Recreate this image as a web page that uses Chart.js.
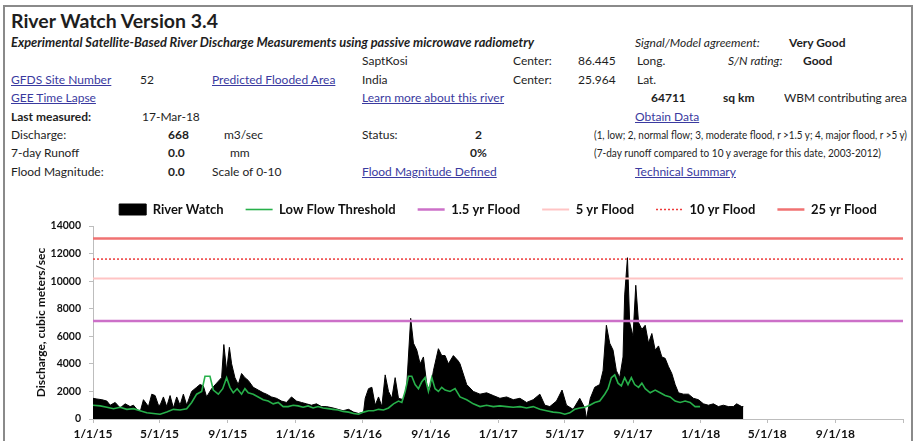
<!DOCTYPE html>
<html><head><meta charset="utf-8">
<script src="https://cdn.jsdelivr.net/npm/chart.js@4.4.1/dist/chart.umd.min.js"></script>
<style>
html,body{margin:0;padding:0;background:#fff;}
body{width:921px;height:441px;position:relative;overflow:hidden;font-family:Lato,"DejaVu Sans",sans-serif;color:#1e1e1e;}
#frame{position:absolute;left:3px;top:5px;width:910px;height:470px;border:2px solid #8a8a8a;box-sizing:border-box;}
.t{position:absolute;white-space:nowrap;font-size:12px;line-height:16px;transform-origin:0 50%;}
.b{font-weight:bold}
.i{font-style:italic}
.a{color:#3a3aa0;text-decoration:underline;}
.n{font-size:11.5px;}
#title{font-size:18.5px;font-weight:bold;line-height:22px;}
#sub{font-size:12.5px;}
#chartWrap{position:absolute;left:0;top:180px;width:921px;height:261px;}
</style></head>
<body>
<div id="frame"></div>
<div class="t" id="title" style="left:11px;top:10px" data-w="207">River Watch Version 3.4</div>
<div class="t b i" id="sub" style="left:11px;top:35px" data-w="523">Experimental Satellite-Based River Discharge Measurements using passive microwave radiometry</div>
<div class="t i" style="left:635px;top:35px">Signal/Model agreement:</div>
<div class="t b" style="left:789px;top:35px">Very Good</div>

<div class="t" style="left:362px;top:53px">SaptKosi</div>
<div class="t" style="left:513px;top:53px">Center:</div>
<div class="t" style="left:578px;top:53px">86.445</div>
<div class="t" style="left:637px;top:53px">Long.</div>
<div class="t i" style="left:728px;top:53px">S/N rating:</div>
<div class="t b" style="left:803px;top:53px">Good</div>

<div class="t a" style="left:11px;top:72px">GFDS Site Number</div>
<div class="t" style="left:140px;top:72px">52</div>
<div class="t a" style="left:212px;top:72px">Predicted Flooded Area</div>
<div class="t" style="left:362px;top:72px">India</div>
<div class="t" style="left:513px;top:72px">Center:</div>
<div class="t" style="left:578px;top:72px">25.964</div>
<div class="t" style="left:637px;top:72px">Lat.</div>

<div class="t a" style="left:11px;top:90px">GEE Time Lapse</div>
<div class="t a" style="left:362px;top:90px">Learn more about this river</div>
<div class="t b" style="left:651px;top:90px">64711</div>
<div class="t b" style="left:723px;top:90px">sq km</div>
<div class="t" style="left:784px;top:90px" data-w="123">WBM contributing area</div>

<div class="t b" style="left:11px;top:109px">Last measured:</div>
<div class="t" style="left:142px;top:109px">17-Mar-18</div>
<div class="t a" style="left:635px;top:109px">Obtain Data</div>

<div class="t" style="left:11px;top:127px">Discharge:</div>
<div class="t b" style="left:168px;top:127px">668</div>
<div class="t" style="left:224px;top:127px">m3/sec</div>
<div class="t" style="left:362px;top:127px">Status:</div>
<div class="t b" style="left:475px;top:127px">2</div>
<div class="t n" style="left:594px;top:127px" data-w="313">(1, low; 2, normal flow; 3, moderate flood, r &gt;1.5 y; 4, major flood, r &gt;5 y)</div>

<div class="t" style="left:11px;top:145px">7-day Runoff</div>
<div class="t b" style="left:168px;top:145px">0.0</div>
<div class="t" style="left:230px;top:145px">mm</div>
<div class="t b" style="left:470px;top:145px">0%</div>
<div class="t n" style="left:594px;top:145px" data-w="287">(7-day runoff compared to 10 y average for this date, 2003-2012)</div>

<div class="t" style="left:11px;top:164px">Flood Magnitude:</div>
<div class="t b" style="left:168px;top:164px">0.0</div>
<div class="t" style="left:212px;top:164px">Scale of 0-10</div>
<div class="t a" style="left:362px;top:164px">Flood Magnitude Defined</div>
<div class="t a" style="left:635px;top:164px">Technical Summary</div>

<div id="chartWrap"><canvas id="c"></canvas></div>
<script>
// fit a few header texts to the widths they occupy in the original sheet
document.querySelectorAll('[data-w]').forEach(el => {
  const w = el.getBoundingClientRect().width;
  el.style.transform = 'scaleX(' + (Number(el.dataset.w) / w) + ')';
});

// ---- data ----
const START_DATE = "1/1/15";
const AXIS_END = "1/1/19";
const tickLabels = ["1/1/15","5/1/15","9/1/15","1/1/16","5/1/16","9/1/16","1/1/17","5/1/17","9/1/17","1/1/18","5/1/18","9/1/18"];

// days since 1/1/15
const riverDays = [0,7,16,25,31,40,49,58,67,73,79,85,91,100,106,112,118,121,127,133,139,145,151,157,163,169,178,187,193,199,205,214,223,232,236,241,246,250,256,262,268,274,280,289,298,307,313,322,331,340,349,358,367,376,385,394,403,412,421,433,442,451,461,470,479,488,491,497,503,509,515,521,527,533,539,545,551,560,566,573,578,584,590,596,602,608,614,623,629,635,641,650,659,662,674,686,698,710,722,734,746,758,770,782,794,806,815,824,836,846,854,866,878,887,890,897,905,914,920,926,932,938,944,950,956,959,964,968,974,979,984,990,996,1002,1008,1014,1020,1026,1032,1038,1044,1050,1056,1065,1074,1083,1092,1101,1110,1119,1128,1137,1146,1155,1161,1170,1173];
const riverWatch = [1500,1450,1400,1300,1000,1200,800,1100,900,1000,700,500,1400,900,1800,1700,1000,1000,1600,900,1700,800,1600,1000,1800,1000,2000,2300,2500,2400,1600,2200,2600,3000,5400,3500,5200,4000,3000,2500,3300,3000,2800,2300,2100,1900,1800,1600,1500,1300,1200,1600,1300,1200,1100,1000,1100,900,900,800,700,600,700,500,400,500,1500,2200,2300,1000,1600,900,3200,2000,1500,3000,1500,1400,2500,7300,5500,5000,4000,4500,2500,2000,3500,5100,4600,4600,4000,4600,4200,4000,2500,2000,1800,1900,1700,1500,1600,1400,1500,1200,1400,1800,1000,900,1300,2100,1000,700,1500,800,0,1500,2300,2500,3500,6800,5500,5000,3500,3000,4500,9000,11700,7000,6000,9700,7000,6500,6800,5500,6200,5000,5300,4500,4400,3800,3300,2500,1900,1800,1800,1500,1400,1100,1000,1100,900,1000,900,900,1100,900,900];

const lowFlowDays = [0,13,25,37,49,61,73,85,97,109,121,133,145,157,169,178,187,196,202,211,217,226,234,241,247,253,260,268,274,280,289,298,307,316,325,334,343,352,361,370,379,388,397,406,415,424,433,442,451,461,470,479,488,497,506,515,524,533,542,551,557,563,569,575,581,587,593,599,605,611,617,623,629,635,644,653,662,674,686,698,710,722,734,746,758,770,782,794,806,818,830,842,851,860,869,878,887,896,905,914,923,929,935,941,947,953,959,965,971,977,984,990,996,1005,1014,1023,1032,1041,1050,1059,1068,1077,1086,1095];
const lowFlow = [1000,950,850,750,850,700,750,600,450,400,350,500,700,650,750,1200,1800,2000,3100,3100,2100,1800,2200,3000,2300,1900,2200,1800,2200,1900,1800,1600,1400,1300,1100,1200,900,900,1000,950,850,950,800,900,800,750,700,650,550,500,400,350,500,600,600,700,650,800,1100,1300,1200,2000,3100,3100,2500,2200,2700,3000,2000,3000,2200,2000,2300,2100,2000,2200,1600,1400,1100,900,1000,900,950,900,850,900,800,900,700,600,500,450,350,450,700,800,850,1000,1200,1300,1800,2200,3000,3200,2600,2400,3000,2500,3000,2500,2300,2600,2200,1900,2100,1900,1700,1600,1300,1200,1300,1200,900,900];

const flood15 = 7100;
const flood5 = 10200;
const flood10 = 11600;
const flood25 = 13100;

// ---- helpers ----
function dayOf(lbl){
  const p = lbl.split('/').map(Number);
  const s = START_DATE.split('/').map(Number);
  return (Date.UTC(2000+p[2], p[0]-1, p[1]) - Date.UTC(2000+s[2], s[0]-1, s[1])) / 864e5;
}
const tickDays = tickLabels.map(dayOf);
const endDay = dayOf(AXIS_END);
const pts = (xs, ys) => xs.map((x, i) => ({x, y: ys[i]}));
const hline = v => [{x: 0, y: v}, {x: endDay, y: v}];

const FONT = 'Lato, "DejaVu Sans", sans-serif';

function lineDs(label, data, color, width, dash, order) {
  return {
    label, data, borderColor: color, backgroundColor: color, borderWidth: width,
    borderDash: dash, pointRadius: 0, pointHoverRadius: 0, fill: false, tension: 0,
    order, legendStyle: 'line'
  };
}

new Chart(document.getElementById('c'), {
  type: 'line',
  data: {
    datasets: [
      { label: 'River Watch', data: pts(riverDays, riverWatch), borderColor: '#000', backgroundColor: '#000',
        borderWidth: 1, fill: 'origin', pointRadius: 0, tension: 0, order: 10, legendStyle: 'rect' },
      lineDs('Low Flow Threshold', pts(lowFlowDays, lowFlow), '#27b04a', 1.6, [], 1),
      lineDs('1.5 yr Flood', hline(flood15), '#cc70c8', 2.5, [], 2),
      lineDs('5 yr Flood', hline(flood5), '#ffc4c4', 2, [], 3),
      lineDs('10 yr Flood', hline(flood10), '#ee3a3a', 1.5, [2, 2], 4),
      lineDs('25 yr Flood', hline(flood25), '#f07272', 2.5, [], 5)
    ]
  },
  options: {
    animation: false, responsive: true, maintainAspectRatio: false,
    layout: { padding: { left: 0, right: 18, top: 1, bottom: 0 } },
    plugins: {
      tooltip: { enabled: false },
      legend: {
        position: 'top', fullSize: false,
        labels: {
          usePointStyle: true, pointStyleWidth: 27, boxHeight: 11, padding: 22,
          color: '#111', font: { family: FONT, size: 13, weight: 'bold' },
          generateLabels(chart) {
            const items = Chart.defaults.plugins.legend.labels.generateLabels(chart);
            items.forEach(it => {
              const ds = chart.data.datasets[it.datasetIndex];
              it.pointStyle = ds.legendStyle;
              it.strokeStyle = ds.borderColor;
              it.fillStyle = ds.backgroundColor;
              it.lineWidth = ds.borderWidth;
              it.lineDash = ds.borderDash || [];
            });
            return items.sort((a, b) => a.datasetIndex - b.datasetIndex);
          }
        }
      }
    },
    scales: {
      x: {
        type: 'linear', min: 0, max: endDay,
        afterBuildTicks(scale) {
          scale.ticks = tickDays.map(v => ({value: v})).concat([{value: endDay}]);
        },
        afterFit(scale) { scale.height = 22; },
        ticks: {
          autoSkip: false, maxRotation: 0, padding: 4,
          color: '#111', font: { family: FONT, size: 12, weight: 'bold' },
          callback(v) { const i = tickDays.indexOf(v); return i >= 0 ? tickLabels[i] : ''; }
        },
        grid: { display: true, drawOnChartArea: false, drawTicks: true, tickLength: 4, color: '#bdbdbd' },
        border: { display: true, color: '#bdbdbd' }
      },
      y: {
        min: 0, max: 14000,
        afterFit(scale) { scale.width = 93; },
        ticks: { stepSize: 2000, padding: 8, color: '#111', font: { family: FONT, size: 10.5, weight: 'bold' },
          callback(v) { return String(v); } },
        grid: { display: true, drawOnChartArea: false, drawTicks: true, tickLength: 4, color: '#bdbdbd' },
        border: { display: true, color: '#bdbdbd' },
        title: { display: true, text: 'Discharge, cubic meters/sec', color: '#111',
          font: { family: FONT, size: 12, weight: 'bold' }, padding: { top: 34, bottom: 0 } }
      }
    }
  }
});
</script>
</body></html>
